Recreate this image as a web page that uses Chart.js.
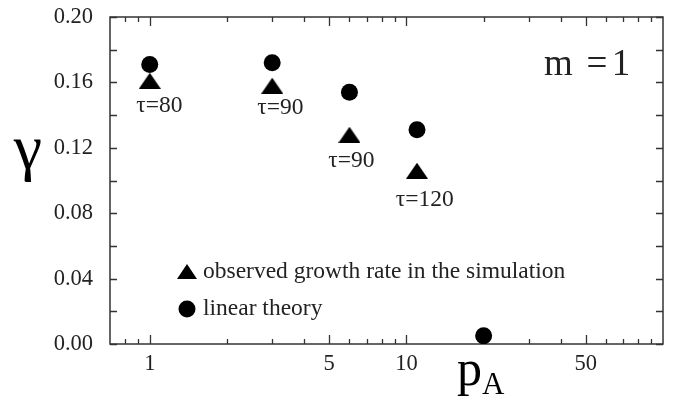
<!DOCTYPE html>
<html>
<head>
<meta charset="utf-8">
<script src="https://cdn.jsdelivr.net/npm/chart.js@4.4.1/dist/chart.umd.min.js"></script>
<style>
  html, body { margin: 0; padding: 0; background: #fff; }
  #wrap { width: 675px; height: 403px; }
</style>
</head>
<body>
<div id="wrap"><canvas id="chart" width="675" height="403"></canvas></div>
<script>
// data
const observedP = [1, 3, 6, 11];
const observedGamma = [0.161, 0.158, 0.128, 0.106];
const theoryP = [1, 3, 6, 11, 20];
const theoryGamma = [0.171, 0.172, 0.154, 0.131, 0.005];

// tau annotations, placed in data units
const tauLabels = ['τ=80', 'τ=90', 'τ=90', 'τ=120'];
const tauLabelP = [1.09, 3.23, 6.1, 11.8];
const tauLabelGamma = [0.1456, 0.1443, 0.1119, 0.0881];

const xMajorTicks = [1, 5, 10, 50];
const xMinorTicks = [0.8, 0.9, 2, 3, 4, 6, 7, 8, 9, 20, 30, 40, 60, 70, 80, 90];
const yMajorTicks = [0, 0.04, 0.08, 0.12, 0.16, 0.2];
const yMinorTicks = [0.02, 0.06, 0.1, 0.14, 0.18];

const SERIF = "'Liberation Serif', 'DejaVu Serif', serif";
const AXIS_COLOR = '#333';
const TEXT_COLOR = '#222';

function makeTriangle(w, h) {
  const c = document.createElement('canvas');
  c.width = w;
  c.height = h;
  const g = c.getContext('2d');
  g.fillStyle = '#000';
  g.beginPath();
  g.moveTo(0, h);
  g.lineTo(w / 2, 0);
  g.lineTo(w, h);
  g.closePath();
  g.fill();
  return c;
}

const triangle = makeTriangle(22, 16);
const legendTriangle = makeTriangle(20, 15);

// box, inward ticks, labels that chart.js has no slot for
const framePlugin = {
  id: 'frame',
  beforeDatasetsDraw(chart) {
    const { ctx, chartArea: a, scales } = chart;
    const x = scales.x, y = scales.y;
    ctx.save();
    ctx.strokeStyle = AXIS_COLOR;
    ctx.lineWidth = 1.5;
    ctx.strokeRect(a.left, a.top, a.right - a.left, a.bottom - a.top);

    ctx.lineWidth = 1.3;
    ctx.beginPath();
    const xTick = (v, len) => {
      const px = Math.round(x.getPixelForValue(v)) + 0.5;
      ctx.moveTo(px, a.bottom); ctx.lineTo(px, a.bottom - len);
      ctx.moveTo(px, a.top); ctx.lineTo(px, a.top + len);
    };
    xMajorTicks.forEach(v => xTick(v, 9));
    xMinorTicks.forEach(v => xTick(v, 5));
    const yTick = (v, len) => {
      const py = Math.round(y.getPixelForValue(v)) + 0.5;
      ctx.moveTo(a.left, py); ctx.lineTo(a.left + len, py);
      ctx.moveTo(a.right, py); ctx.lineTo(a.right - len, py);
    };
    yMajorTicks.forEach(v => yTick(v, 7));
    yMinorTicks.forEach(v => yTick(v, 7));
    ctx.stroke();
    ctx.restore();
  },
  afterDraw(chart) {
    const { ctx, chartArea: a, scales } = chart;
    const x = scales.x, y = scales.y;
    ctx.save();
    ctx.fillStyle = TEXT_COLOR;
    ctx.textBaseline = 'middle';

    // tau labels
    ctx.font = '23.5px ' + SERIF;
    ctx.textAlign = 'center';
    tauLabels.forEach((t, i) => {
      ctx.fillText(t, x.getPixelForValue(tauLabelP[i]), y.getPixelForValue(tauLabelGamma[i]));
    });

    // legend inside the plot
    const lx = a.left + 77;
    const ly1 = a.top + 255;
    const ly2 = a.top + 292;
    ctx.drawImage(legendTriangle, lx - 10, ly1 - 8);
    ctx.fillStyle = '#000';
    ctx.beginPath();
    ctx.arc(lx, ly2, 8.5, 0, Math.PI * 2);
    ctx.fill();
    ctx.fillStyle = TEXT_COLOR;
    ctx.textAlign = 'left';
    ctx.fillText('observed growth rate in the simulation', lx + 16, ly1);
    ctx.fillText('linear theory', lx + 16, ly2);

    // m = 1
    ctx.font = '37px ' + SERIF;
    ctx.textBaseline = 'alphabetic';
    ctx.textAlign = 'left';
    ctx.fillText('m', 544, 75);
    ctx.textAlign = 'center';
    ctx.fillText('=', 597, 75);
    ctx.fillText('1', 621, 75);

    // axis titles
    ctx.font = '64px ' + SERIF;
    ctx.fillStyle = '#000';
    ctx.fillText('γ', 28, 168);
    ctx.textAlign = 'left';
    ctx.font = '50px ' + SERIF;
    ctx.fillText('p', 457, 385);
    ctx.font = '31px ' + SERIF;
    ctx.fillText('A', 482, 394);
    ctx.restore();
  }
};

Chart.defaults.font.family = SERIF;
Chart.defaults.color = TEXT_COLOR;

new Chart(document.getElementById('chart'), {
  type: 'scatter',
  data: {
    datasets: [
      {
        label: 'observed growth rate in the simulation',
        data: observedP.map((p, i) => ({ x: p, y: observedGamma[i] })),
        pointStyle: triangle,
        pointRadius: 11,
      },
      {
        label: 'linear theory',
        data: theoryP.map((p, i) => ({ x: p, y: theoryGamma[i] })),
        pointStyle: 'circle',
        pointRadius: 8.5,
        backgroundColor: '#000',
        borderWidth: 0,
      },
    ],
  },
  options: {
    responsive: false,
    animation: false,
    layout: { padding: { top: 17, right: 10, left: 0, bottom: 0 } },
    plugins: {
      legend: { display: false },
      tooltip: { enabled: false },
    },
    scales: {
      x: {
        type: 'logarithmic',
        min: 0.7,
        max: 100,
        grid: { display: false, drawTicks: false },
        border: { display: false },
        afterBuildTicks: s => { s.ticks = xMajorTicks.map(v => ({ value: v })); },
        afterFit: s => { s.height = 59; s.paddingLeft = 0; s.paddingRight = 0; },
        ticks: {
          autoSkip: false,
          maxRotation: 0,
          padding: 7,
          font: { size: 22.5 },
          color: TEXT_COLOR,
          callback: v => String(v),
        },
      },
      y: {
        min: 0,
        max: 0.2,
        grid: { display: false, drawTicks: false },
        border: { display: false },
        afterBuildTicks: s => { s.ticks = yMajorTicks.map(v => ({ value: v })); },
        afterFit: s => { s.width = 110; s.paddingTop = 0; s.paddingBottom = 0; },
        ticks: {
          padding: 17,
          font: { size: 22.5 },
          color: TEXT_COLOR,
          callback: v => v.toFixed(2),
        },
      },
    },
  },
  plugins: [framePlugin],
});
</script>
</body>
</html>
